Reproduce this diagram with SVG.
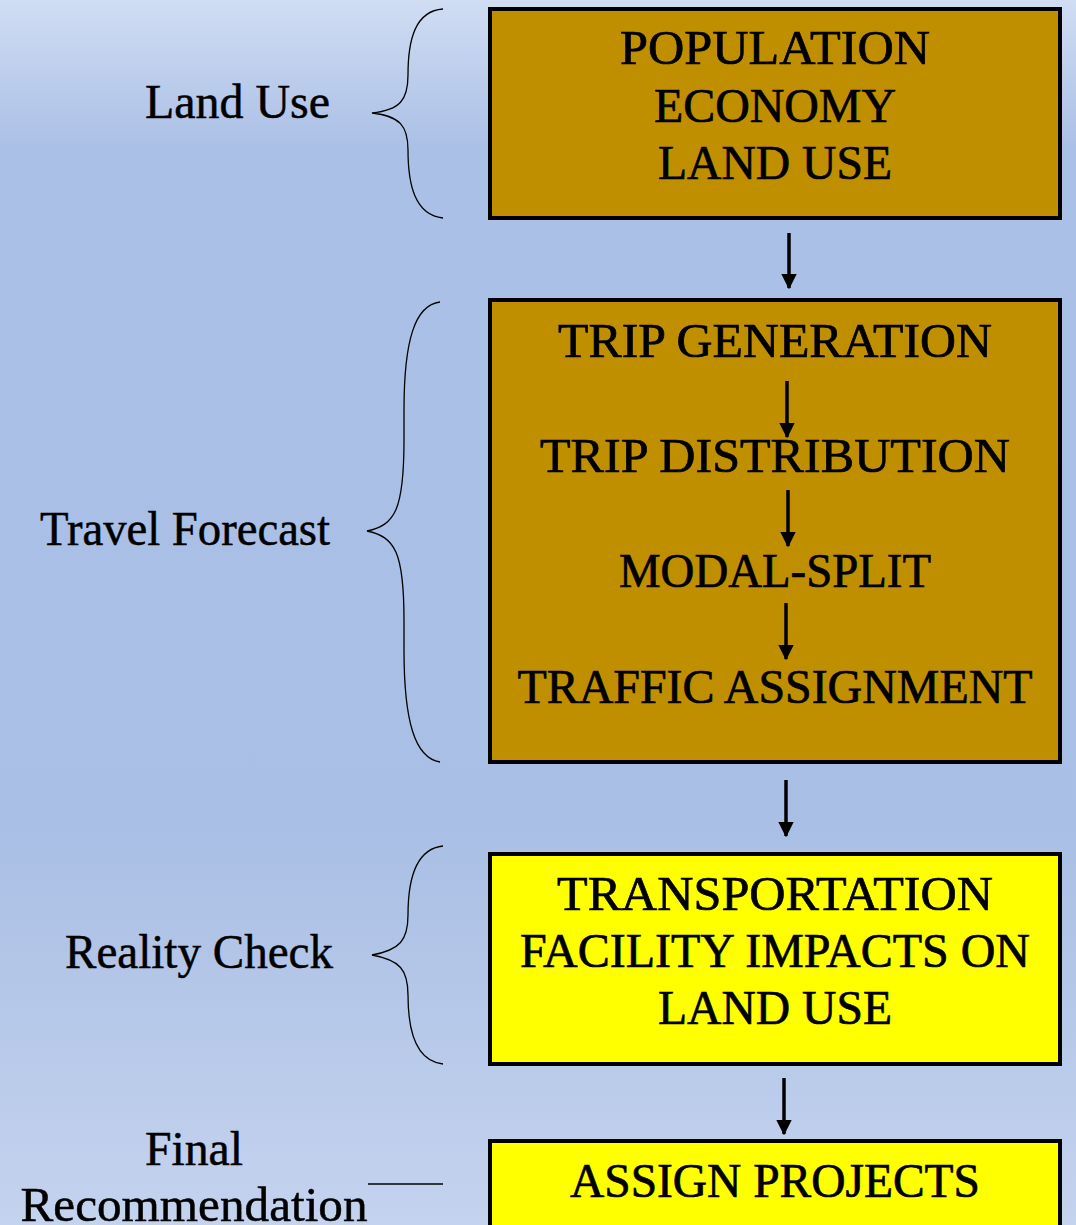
<svg xmlns="http://www.w3.org/2000/svg" width="1076" height="1225" viewBox="0 0 1076 1225">
<defs>
<linearGradient id="bg" x1="0" y1="0" x2="0" y2="1">
<stop offset="0" stop-color="#d0ddf3"/>
<stop offset="0.12" stop-color="#abc0e6"/>
<stop offset="0.68" stop-color="#aabfe5"/>
<stop offset="1" stop-color="#c4d3ee"/>
</linearGradient>
<marker id="ah" markerWidth="4.4" markerHeight="4.4" refX="4" refY="2.2" orient="auto" markerUnits="strokeWidth">
<path d="M0,0 L4.4,2.2 L0,4.4 Z" fill="#000"/>
</marker>
<style>
.box{stroke:#000;stroke-width:4}
.brown{fill:#bf8f00}
.yellow{fill:#ffff00}
.bt{font-family:"Liberation Serif",serif;font-size:48px;fill:#000;text-anchor:middle;stroke:#000;stroke-width:0.7}
.lb{font-family:"Liberation Serif",serif;font-size:48px;fill:#000;stroke:#000;stroke-width:0.5}
.brace{fill:none;stroke:#000;stroke-width:1.3}
.arr{stroke:#000;stroke-width:3.5;marker-end:url(#ah)}
</style>
</defs>
<rect x="0" y="0" width="1076" height="1225" fill="url(#bg)"/>

<g id="labels">
<text class="lb" x="330" y="118" text-anchor="end" textLength="185" lengthAdjust="spacingAndGlyphs">Land Use</text>
<text class="lb" x="330" y="545" text-anchor="end" textLength="290" lengthAdjust="spacingAndGlyphs">Travel Forecast</text>
<text class="lb" x="333" y="968" text-anchor="end" textLength="268" lengthAdjust="spacingAndGlyphs">Reality Check</text>
<text class="lb" x="194" y="1165" text-anchor="middle" textLength="98" lengthAdjust="spacingAndGlyphs">Final</text>
<text class="lb" x="194" y="1221" text-anchor="middle" textLength="347" lengthAdjust="spacingAndGlyphs">Recommendation</text>
</g>

<g id="braces">
<path class="brace" d="M443,9 C415,11 408,40 408,75 C408,100 400,110 372,113 C400,116 408,126 408,150 C408,185 415,215 443,218"/>
<path class="brace" d="M440,302 C415,305 404,340 404,410 L404,440 C404,510 395,525 367,531 C395,537 404,552 404,620 L404,650 C404,722 415,758 440,762"/>
<path class="brace" d="M443,846 C415,849 408,880 408,915 C408,940 400,950 372,955 C400,960 408,970 408,995 C408,1030 415,1061 443,1064"/>
<line class="brace" x1="368" y1="1184" x2="443" y2="1184"/>
</g>

<g id="node-landuse">
<rect class="box brown" x="490" y="9" width="570" height="209"/>
<text class="bt" x="775" y="64" textLength="310" lengthAdjust="spacingAndGlyphs">POPULATION</text>
<text class="bt" x="775" y="122" textLength="242" lengthAdjust="spacingAndGlyphs">ECONOMY</text>
<text class="bt" x="775" y="179" textLength="234" lengthAdjust="spacingAndGlyphs">LAND USE</text>
</g>

<g id="node-travel">
<rect class="box brown" x="490" y="300" width="570" height="462"/>
<text class="bt" x="775" y="357" textLength="434" lengthAdjust="spacingAndGlyphs">TRIP GENERATION</text>
<text class="bt" x="775" y="472" textLength="470" lengthAdjust="spacingAndGlyphs">TRIP DISTRIBUTION</text>
<text class="bt" x="775" y="587" textLength="312" lengthAdjust="spacingAndGlyphs">MODAL-SPLIT</text>
<text class="bt" x="775" y="703" textLength="515" lengthAdjust="spacingAndGlyphs">TRAFFIC ASSIGNMENT</text>
</g>

<g id="node-reality">
<rect class="box yellow" x="490" y="854" width="570" height="210"/>
<text class="bt" x="775" y="910" textLength="436" lengthAdjust="spacingAndGlyphs">TRANSPORTATION</text>
<text class="bt" x="775" y="967" textLength="510" lengthAdjust="spacingAndGlyphs">FACILITY IMPACTS ON</text>
<text class="bt" x="775" y="1024" textLength="234" lengthAdjust="spacingAndGlyphs">LAND USE</text>
</g>

<g id="node-assign">
<rect class="box yellow" x="490" y="1141" width="570" height="100"/>
<text class="bt" x="775" y="1197" textLength="410" lengthAdjust="spacingAndGlyphs">ASSIGN PROJECTS</text>
</g>

<g id="connectors">
<line class="arr" x1="789" y1="233" x2="789" y2="288"/>
<line class="arr" x1="787" y1="381" x2="787" y2="437"/>
<line class="arr" x1="788" y1="490" x2="788" y2="546"/>
<line class="arr" x1="786" y1="603" x2="786" y2="659"/>
<line class="arr" x1="786" y1="780" x2="786" y2="836"/>
<line class="arr" x1="784" y1="1078" x2="784" y2="1134"/>
</g>
</svg>
